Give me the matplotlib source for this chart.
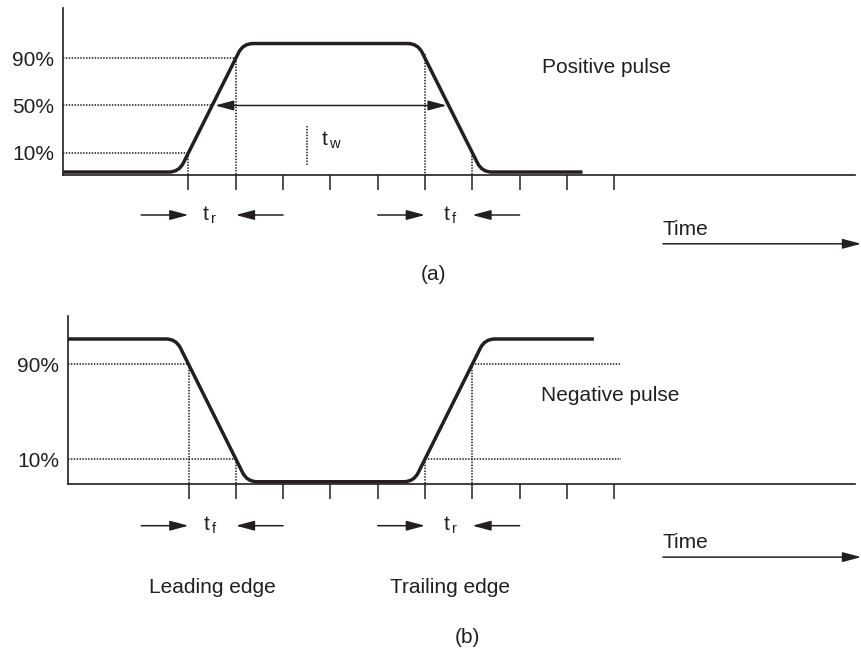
import numpy as np
import matplotlib.pyplot as plt
from matplotlib.path import Path
from matplotlib.patches import PathPatch

plt.rcParams['font.family'] = ['Liberation Sans', 'DejaVu Sans']
INK = '#231f20'

# time in tick units, level in percent of pulse amplitude
ticks = list(range(1, 11))
ticks_a_lbl = [10, 50, 90]
ticks_b_lbl = [10, 90]

# pulse outlines: corner points (time, level)
pos_t = [-1.653, 0.795, 2.156, 5.844, 7.205, 9.33]
pos_l = [-6.4, -6.4, 102.5, 102.5, -6.4, -6.4]
neg_t = [-1.548, 0.734, 2.24, 5.76, 7.266, 9.57]
neg_l = [111.3, 111.3, -9.2, -9.2, 111.3, 111.3]

# edge crossings
rise_a = (1, 2)    # 10% -> 90%
fall_a = (6, 7)    # 90% -> 10%
fall_b = (1, 2)
rise_b = (6, 7)


def rounded_path(ax, ts, ls, d=10):
    # round the interior corners with quadratic curves, d in pixels
    pts = ax.transData.transform(np.column_stack([ts, ls]))
    verts = [pts[0]]
    codes = [Path.MOVETO]
    for i in range(1, len(pts) - 1):
        p0, p1, p2 = pts[i - 1], pts[i], pts[i + 1]
        u1 = (p0 - p1) / np.linalg.norm(p0 - p1)
        u2 = (p2 - p1) / np.linalg.norm(p2 - p1)
        verts += [p1 + u1 * d, p1, p1 + u2 * d]
        codes += [Path.LINETO, Path.CURVE3, Path.CURVE3]
    verts.append(pts[-1])
    codes.append(Path.LINETO)
    verts = ax.transData.inverted().transform(np.array(verts))
    return Path(verts, codes)


def setup(ax, xlim, ylim, yt):
    ax.set_xlim(*xlim)
    ax.set_ylim(*ylim)
    for s in ['top', 'right']:
        ax.spines[s].set_visible(False)
    for s in ['left', 'bottom']:
        ax.spines[s].set_linewidth(1.2)
        ax.spines[s].set_color(INK)
    ax.set_xticks(ticks)
    ax.tick_params(axis='x', direction='out', length=11, width=1.1,
                   color=INK, labelbottom=False)
    ax.set_yticks(yt)
    ax.set_yticklabels([f'{v}%' for v in yt])
    ax.tick_params(axis='y', length=0, pad=6.5, labelsize=15, labelcolor=INK)
    ax.patch.set_alpha(0)


def dotted(ax, x, y):
    ax.plot(x, y, color=INK, lw=1.15, ls=(0, (0.9, 0.9)), clip_on=False)


def arrow(ax, x0, x1, y, both=False):
    style = '<|-|>' if both else '-|>'
    ax.annotate('', xy=(x1, y), xytext=(x0, y), annotation_clip=False,
                arrowprops=dict(arrowstyle=style + ',head_length=0.75,head_width=0.2',
                                color=INK, lw=1.1, mutation_scale=15,
                                shrinkA=0, shrinkB=0))


def sub(s):
    return r'$\mathregular{t_{\,' + s + '}}$'


def edge_marks(ax, y, a, b, la, lb):
    arrow(ax, a[0] - 1, a[0], y)
    arrow(ax, a[1] + 1, a[1], y)
    arrow(ax, b[0] - 1, b[0], y)
    arrow(ax, b[1] + 1, b[1], y)
    ax.text(sum(a) / 2 - 0.05, y, sub(la), ha='center', va='center', fontsize=15, color=INK)
    ax.text(sum(b) / 2 + 0.03, y, sub(lb), ha='center', va='center', fontsize=15, color=INK)


fig = plt.figure(figsize=(8.61, 6.51), dpi=100)

# (a) positive pulse
ax = fig.add_axes([63 / 861, 1 - 175 / 651, 792 / 861, 167 / 651])
setup(ax, (-1.653, 15.09), (-8.9, 132.6), ticks_a_lbl)
base = -8.9
ax.add_patch(PathPatch(rounded_path(ax, pos_t, pos_l), fill=False, lw=2.5,
                       color=INK, capstyle='butt', joinstyle='round'))
dotted(ax, [-1.653, rise_a[1]], [90, 90])
dotted(ax, [-1.653, 1.56], [50, 50])
dotted(ax, [-1.653, rise_a[0]], [10, 10])
dotted(ax, [rise_a[0]] * 2, [10, base])
dotted(ax, [rise_a[1]] * 2, [90, base])
dotted(ax, [fall_a[0]] * 2, [94, base])
dotted(ax, [fall_a[1]] * 2, [10, base])
arrow(ax, 1.56, 6.46, 50, both=True)
dotted(ax, [3.51, 3.51], [32.6, -1.3])
ax.text(3.8, 20.8, sub('w'), ha='left', va='center', fontsize=15, color=INK)
ax.text(8.48, 81.8, 'Positive pulse', ha='left', va='center', fontsize=15, color=INK)
edge_marks(ax, -42.8, rise_a, fall_a, 'r', 'f')
arrow(ax, 11.03, 15.22, -67.2)
ax.text(11.03, -55.5, 'Time', ha='left', va='center', fontsize=15, color=INK)
ax.text(6.17, -92.8, '(a)', ha='center', va='center', fontsize=15, color=INK)

# (b) negative pulse
ax = fig.add_axes([68 / 861, 1 - 484 / 651, 787 / 861, 168 / 651])
setup(ax, (-1.548, 15.09), (-11.1, 130.7), ticks_b_lbl)
base = -11.1
ax.add_patch(PathPatch(rounded_path(ax, neg_t, neg_l), fill=False, lw=2.5,
                       color=INK, capstyle='butt', joinstyle='round'))
dotted(ax, [-1.548, fall_b[0]], [90, 90])
dotted(ax, [-1.548, fall_b[1]], [10, 10])
dotted(ax, [rise_b[1], 10.12], [90, 90])
dotted(ax, [rise_b[0], 10.14], [10, 10])
dotted(ax, [fall_b[0]] * 2, [90, base])
dotted(ax, [fall_b[1]] * 2, [10, base])
dotted(ax, [rise_b[0]] * 2, [10, base])
dotted(ax, [rise_b[1]] * 2, [90, base])
ax.text(8.45, 63.2, 'Negative pulse', ha='left', va='center', fontsize=15, color=INK)
edge_marks(ax, -46.3, fall_b, rise_b, 'f', 'r')
arrow(ax, 11.03, 15.22, -72.8)
ax.text(11.03, -60.1, 'Time', ha='left', va='center', fontsize=15, color=INK)
ax.text(1.5, -98.1, 'Leading edge', ha='center', va='center', fontsize=15, color=INK)
ax.text(6.53, -98.1, 'Trailing edge', ha='center', va='center', fontsize=15, color=INK)
ax.text(6.89, -140.4, '(b)', ha='center', va='center', fontsize=15, color=INK)

fig.savefig('out.png', dpi=100)
